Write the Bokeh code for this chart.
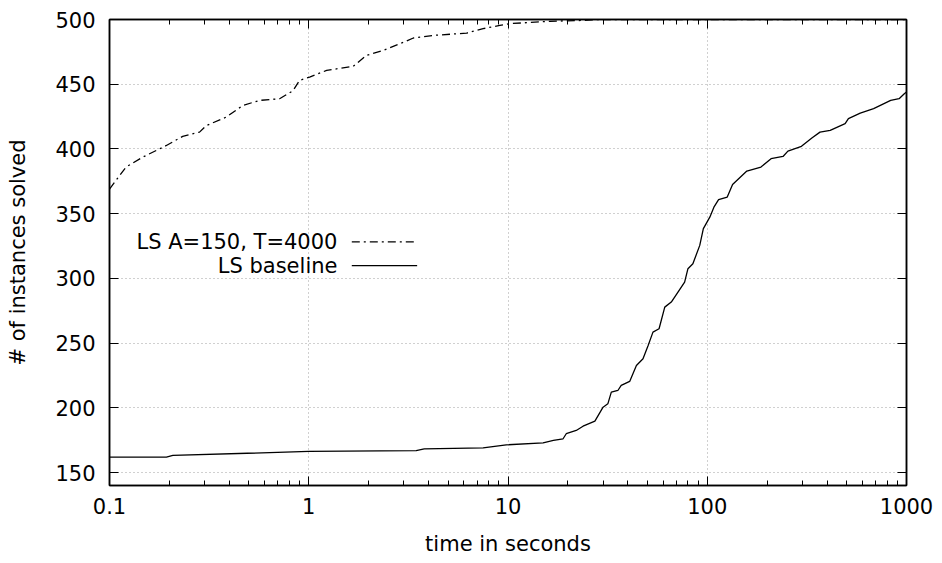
from bokeh.plotting import figure
from bokeh.models import (FixedTicker, Range1d, LinearScale, Label, LogAxis, LinearAxis)
from bokeh.embed import file_html
from bokeh.resources import INLINE

# LS A=150, T=4000 (dash-dot)
tuned_t = [0.1, 0.121, 0.147, 0.193, 0.233, 0.283, 0.306, 0.385, 0.468, 0.567, 0.714, 0.834,
           0.90, 1.01, 1.23, 1.67, 1.95, 2.36, 2.98, 3.35, 4.2, 6.2, 7.5, 9.1, 10.2, 16.2, 23.8, 29.0, 1000]
tuned_n = [369, 386, 393.7, 402.7, 409.7, 413, 418, 424.6, 433.7, 437.5, 438.8, 445,
           453, 455.5, 460.7, 463.8, 472.3, 476, 482.3, 485.7, 487.7, 489.5, 492.9, 495.5, 496.8, 498.6, 499.3, 500, 500]

# LS baseline (solid)
base_t = [0.1, 0.193, 0.208, 1.0, 3.46, 3.8, 7.5, 9.8, 15.0, 16.9, 18.9, 19.6, 22, 23.8, 27.3,
          30, 31.7, 33, 35.6, 37, 40.8, 44.1, 47.6, 50.5, 53.4, 57.3, 61.2, 66, 71.3, 77, 80,
          84.7, 91.7, 95.6, 103, 108, 114, 126, 134, 158, 186, 209, 240, 254, 297, 335, 368,
          414, 492, 511, 586, 684, 833, 918, 975, 1000]
base_n = [161.9, 161.9, 163.2, 166.3, 167, 168.3, 169.1, 171.4, 173, 174.8, 176.1, 180, 182.5, 185.8, 189.7,
          200.5, 203.1, 212.1, 213.4, 217.3, 220.4, 232.7, 237.9, 248.2, 258.5, 261.1, 277.8, 281.7, 289.4, 297.1, 307.5,
          311.3, 325.5, 338.4, 347.3, 355, 360.8, 362.8, 372.6, 382.9, 386, 392.5, 394.2, 398.3, 402, 408.4, 413,
          414.3, 419.5, 423.4, 427.7, 431.1, 437.5, 438.8, 442.7, 444]

x_ticks = [0.1, 1, 10, 100, 1000]
x_tick_labels = ["0.1", "1", "10", "100", "1000"]
y_ticks = [150, 200, 250, 300, 350, 400, 450, 500]
series_names = ["LS A=150, T=4000", "LS baseline"]
x_title = "time in seconds"
y_title = "# of instances solved"

FONT = "DejaVu Sans"
FS = "21px"
XMIN, XMAX = 0.1, 1000
FW, FH = 797, 466
LEFT = 109

minor = []
for d in [0.1, 1, 10, 100]:
    for k in range(2, 10):
        minor.append(d * k)

p = figure(x_axis_type="log", x_range=Range1d(XMIN, XMAX), y_range=Range1d(140, 500),
           frame_width=FW, frame_height=FH, min_border_left=LEFT, min_border_right=31,
           min_border_top=19, min_border_bottom=78, output_backend="svg",
           toolbar_location=None, background_fill_color="white", border_fill_color="white")
p.outline_line_color = "black"
p.outline_line_width = 1.5

xt = FixedTicker(ticks=x_ticks, minor_ticks=minor)
yt = FixedTicker(ticks=y_ticks)
p.xaxis[0].ticker = xt
p.xaxis[0].major_label_overrides = {t: l for t, l in zip(x_ticks, x_tick_labels)}
p.yaxis[0].ticker = yt

def style_axis(ax, hide_labels=False):
    ax.axis_line_color = "black"
    ax.axis_line_width = 1.5
    ax.major_tick_in = 9
    ax.major_tick_out = 0
    ax.minor_tick_in = 5
    ax.minor_tick_out = 0
    ax.major_tick_line_color = "black"
    ax.major_tick_line_width = 1
    ax.minor_tick_line_color = "black"
    ax.minor_tick_line_width = 1
    ax.major_label_text_font = FONT
    ax.major_label_text_font_size = FS
    ax.major_label_text_color = "black"
    ax.axis_label_text_font = FONT
    ax.axis_label_text_font_size = FS
    ax.axis_label_text_font_style = "normal"
    ax.axis_label_text_color = "black"
    if hide_labels:
        ax.major_label_text_font_size = "1px"
        ax.major_label_text_alpha = 0
        ax.major_label_standoff = 0

style_axis(p.xaxis[0])
p.xaxis[0].axis_label = x_title
p.xaxis[0].major_label_standoff = 12
p.xaxis[0].axis_label_standoff = 15
style_axis(p.yaxis[0])
p.yaxis[0].axis_label = y_title
p.yaxis[0].major_label_standoff = 14
p.yaxis[0].axis_label_standoff = 22
p.yaxis[0].minor_tick_line_color = None

top = LogAxis(ticker=xt)
style_axis(top, hide_labels=True)
p.add_layout(top, "above")
right = LinearAxis(ticker=yt)
style_axis(right, hide_labels=True)
right.minor_tick_line_color = None
p.add_layout(right, "right")

for g in (p.xgrid[0], p.ygrid[0]):
    g.grid_line_color = "#a0a0a0"
    g.grid_line_dash = "1 3"
    g.grid_line_width = 1
p.xgrid[0].ticker = xt
p.ygrid[0].ticker = yt

p.line(tuned_t, tuned_n, line_color="black", line_width=1.3, line_dash="8 4 2 4")
p.line(base_t, base_n, line_color="black", line_width=1.3)

# frame-fraction coordinates for the legend
p.extra_x_ranges = {"f": Range1d(0, 1)}
p.extra_y_ranges = {"f": Range1d(0, 1)}
p.extra_x_scales = {"f": LinearScale()}
p.extra_y_scales = {"f": LinearScale()}

leg_y = [0.523, 0.472]
dashes = ["8 4 2 4", "solid"]
for name, yy, dsh in zip(series_names, leg_y, dashes):
    p.add_layout(Label(x=0.286, y=yy, x_range_name="f", y_range_name="f", text=name,
                       text_align="right", text_baseline="middle", text_font=FONT,
                       text_font_size=FS, text_color="black"))
    p.line([0.304, 0.386], [yy, yy], x_range_name="f", y_range_name="f",
           line_color="black", line_width=1.3, line_dash=dsh)

open("out.html", "w").write(file_html(p, INLINE))
